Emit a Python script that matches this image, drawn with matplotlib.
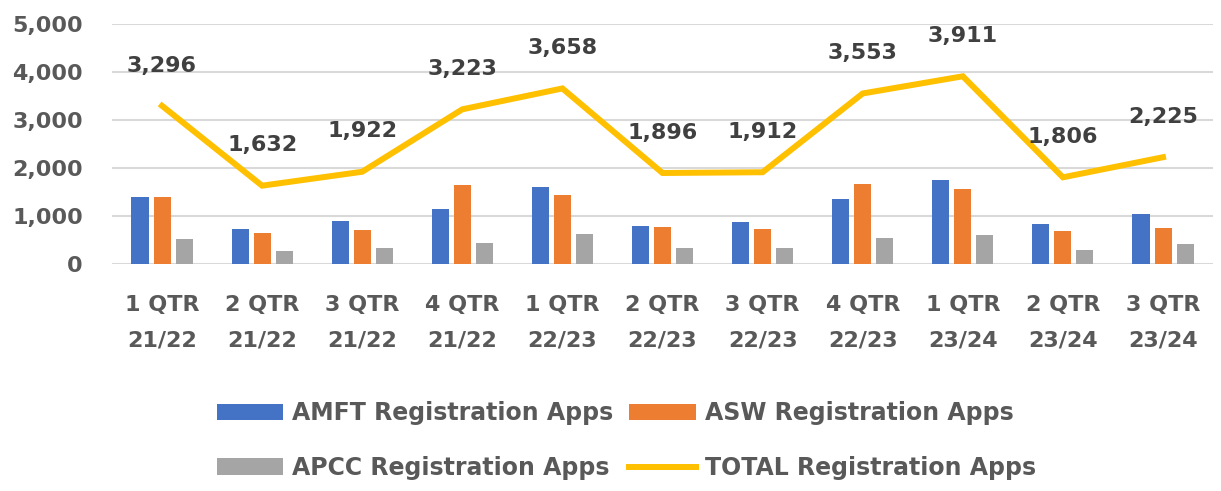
import numpy as np
import matplotlib.pyplot as plt

# quarters and counts (totals are the printed labels)
quarters = ["1 QTR\n21/22", "2 QTR\n21/22", "3 QTR\n21/22", "4 QTR\n21/22",
            "1 QTR\n22/23", "2 QTR\n22/23", "3 QTR\n22/23", "4 QTR\n22/23",
            "1 QTR\n23/24", "2 QTR\n23/24", "3 QTR\n23/24"]
amft = [1390, 720, 890, 1140, 1610, 800, 865, 1345, 1745, 828, 1045]
asw = [1390, 650, 700, 1650, 1430, 765, 722, 1675, 1563, 692, 753]
apcc = [516, 262, 332, 433, 618, 331, 325, 533, 603, 286, 427]
total = [3296, 1632, 1922, 3223, 3658, 1896, 1912, 3553, 3911, 1806, 2225]

plt.rcParams['font.family'] = 'DejaVu Sans'
plt.rcParams['font.weight'] = 'bold'

fig = plt.figure(figsize=(12.21, 4.91), dpi=100)
ax = fig.add_axes([0.0917, 0.4623, 0.9018, 0.4888])

x = np.arange(len(quarters))
w = 0.17
b1 = ax.bar(x - 0.22, amft, w, color="#4472C4", label="AMFT Registration Apps", zorder=3)
b2 = ax.bar(x, asw, w, color="#ED7D31", label="ASW Registration Apps", zorder=3)
b3 = ax.bar(x + 0.22, apcc, w, color="#A5A5A5", label="APCC Registration Apps", zorder=3)
ln, = ax.plot(x, total, color="#FFC000", linewidth=4.3, solid_joinstyle="miter",
              label="TOTAL Registration Apps", zorder=4)

# data labels over the total line
for xi, t in zip(x, total):
    ax.annotate(f"{t:,}", xy=(xi, t), xytext=(0, 29), textcoords="offset points",
                ha="center", va="center", fontsize=16, fontweight="bold",
                color="#404040", zorder=5)

ax.set_xlim(-0.5, len(quarters) - 0.5)
ax.set_ylim(0, 5000)
ax.set_yticks(range(0, 5001, 1000))
ax.set_yticklabels([f"{v:,}" for v in range(0, 5001, 1000)], fontweight="bold")
ax.set_xticks(x)
ax.set_xticklabels(quarters, linespacing=1.97, fontweight="bold")
ax.tick_params(axis="y", length=0, pad=21, labelsize=16, labelcolor="#595959")
ax.tick_params(axis="x", length=0, pad=22, labelsize=16, labelcolor="#595959")
ax.grid(axis="y", color="#D9D9D9", linewidth=1.5, zorder=0)
for s in ax.spines.values():
    s.set_visible(False)

fig.legend([b1, b3, b2, ln],
           ["AMFT Registration Apps", "APCC Registration Apps",
            "ASW Registration Apps", "TOTAL Registration Apps"],
           ncol=2, loc="center", bbox_to_anchor=(0.513, 0.103), frameon=False,
           prop={"size": 17, "weight": "bold"}, labelcolor="#595959",
           handlelength=2.8, handleheight=0.7,
           handletextpad=0.38, columnspacing=0.68, labelspacing=1.3)

fig.savefig("out.png", dpi=100)
